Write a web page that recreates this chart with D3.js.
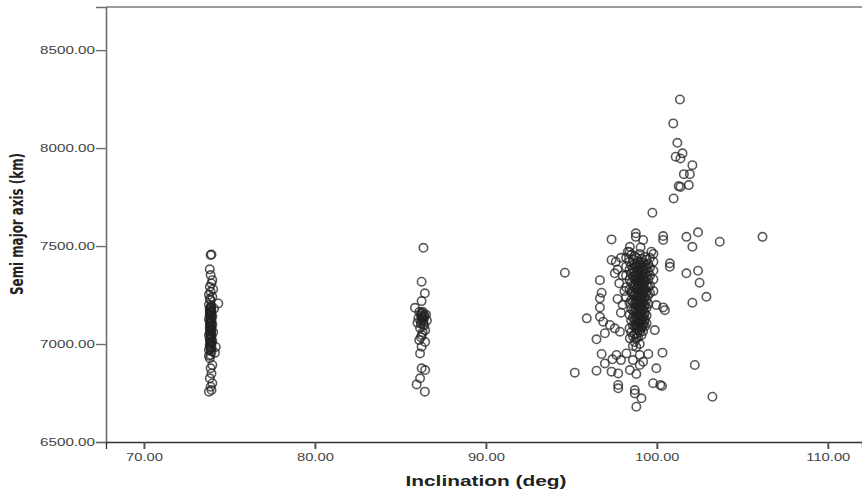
<!DOCTYPE html>
<html lang="en">
<head>
<meta charset="UTF-8">
<title>Inclination vs semi major axis</title>
<style>
  body { margin: 0; background: #fff; }
  text { font-family: "Liberation Sans", Arial, sans-serif; }
</style>
</head>
<body>
<div id="chart"></div>
<script src="https://cdn.jsdelivr.net/npm/d3@7"></script>
<script>
const width = 862, height = 490;

// axis ticks
const xTicks = [70, 80, 90, 100, 110];
const yTicks = [6500, 7000, 7500, 8000, 8500];

// [inclination (deg), semi major axis (km)]
const group74 = [
  [73.9,7454],[73.95,7457],[73.85,7381],[73.9,7352],[74.0,7326],[73.95,7309],[73.85,7292],
  [74.05,7280],[73.9,7267],[73.8,7252],[74.0,7241],[73.85,7230],[73.9,7224],[74.35,7207],
  [73.8,7200],[73.95,7195],[73.9,7188],[74.1,7180],[73.85,7175],[73.9,7168],[73.95,7160],
  [73.85,7155],[73.9,7148],[74.0,7140],[73.9,7135],[73.8,7128],[73.95,7120],[73.9,7112],
  [73.85,7105],[74.0,7098],[73.9,7090],[73.95,7082],[73.85,7075],[73.9,7068],[74.05,7060],
  [73.9,7052],[73.8,7045],[73.95,7038],[73.9,7030],[73.85,7022],[74.0,7015],[73.9,7008],
  [73.95,7000],[73.85,6992],[74.2,6985],[73.9,6978],[73.8,6970],[73.95,6962],[74.15,6955],
  [73.9,6944],[73.8,6940],[73.85,6927],[74.0,6893],[73.9,6876],[73.95,6850],[73.85,6825],
  [74.0,6800],[73.9,6782],[73.8,6757],[73.95,6765],
  [73.9,7185],[73.85,7178],[73.95,7170],[73.9,7163],[73.85,7150],[73.95,7143],[73.9,7130],
  [73.85,7117],[73.95,7108],[73.9,7095],[73.85,7085],[73.95,7072],[73.9,7062],[73.85,7055],
  [73.95,7043],[73.9,7035],[73.85,7025],[73.95,7012],[73.9,7003],[73.85,6995],[73.95,6985],
  [73.9,6972]
];

const group86 = [
  [86.35,7491],[86.24,7318],[86.43,7259],[86.24,7219],[85.85,7185],[86.1,7163],[86.3,7158],
  [86.5,7150],[86.2,7145],[86.4,7138],[86.05,7132],[86.3,7126],[86.55,7120],[86.2,7114],
  [86.0,7108],[86.35,7100],[86.15,7082],[86.45,7070],[86.25,7046],[86.1,7020],[86.45,7010],
  [86.24,6986],[86.15,6952],[86.24,6876],[86.45,6867],[86.15,6825],[85.95,6794],[86.43,6757],
  [86.3,7165],[86.2,7155],[86.4,7148],[86.3,7140],[86.25,7132],[86.35,7118],[86.2,7105],
  [86.4,7095],[86.3,7060],[86.2,7035]
];

const group98 = [
  // dense column
  [98.2,7440],[98.2,7395],[98.2,7350],[98.2,7290],[98.2,7240],
  [98.4,7470],[98.4,7420],[98.4,7380],[98.4,7330],[98.4,7280],[98.4,7210],[98.4,7150],[98.4,7080],
  [98.5,7455],[98.5,7400],[98.5,7360],[98.5,7310],[98.5,7265],[98.5,7225],[98.5,7180],[98.5,7120],[98.5,7060],
  [98.6,7430],[98.6,7385],[98.6,7345],[98.6,7300],[98.6,7255],[98.6,7215],[98.6,7170],[98.6,7135],[98.6,7095],[98.6,7040],[98.6,6990],
  [98.7,7450],[98.7,7410],[98.7,7370],[98.7,7330],[98.7,7290],[98.7,7250],[98.7,7205],[98.7,7165],[98.7,7125],[98.7,7090],[98.7,7050],[98.7,7010],
  [98.8,7440],[98.8,7395],[98.8,7355],[98.8,7320],[98.8,7280],[98.8,7240],[98.8,7200],[98.8,7160],[98.8,7115],[98.8,7080],[98.8,7030],[98.8,6985],
  [98.9,7420],[98.9,7380],[98.9,7340],[98.9,7300],[98.9,7260],[98.9,7225],[98.9,7190],[98.9,7150],[98.9,7110],[98.9,7070],[98.9,7035],
  [99.0,7460],[99.0,7405],[99.0,7365],[99.0,7325],[99.0,7285],[99.0,7245],[99.0,7210],[99.0,7175],[99.0,7140],[99.0,7100],[99.0,7060],[99.0,7000],
  [99.1,7435],[99.1,7390],[99.1,7350],[99.1,7310],[99.1,7270],[99.1,7230],[99.1,7195],[99.1,7155],[99.1,7120],[99.1,7085],[99.1,7045],
  [99.2,7415],[99.2,7375],[99.2,7335],[99.2,7295],[99.2,7255],[99.2,7215],[99.2,7180],[99.2,7140],[99.2,7100],[99.2,7065],
  [99.3,7445],[99.3,7400],[99.3,7360],[99.3,7320],[99.3,7280],[99.3,7240],[99.3,7200],[99.3,7160],[99.3,7125],[99.3,7090],
  [99.4,7430],[99.4,7385],[99.4,7345],[99.4,7305],[99.4,7265],[99.4,7225],[99.4,7185],[99.4,7145],[99.4,7105],
  [99.5,7410],[99.5,7370],[99.5,7330],[99.5,7290],[99.5,7250],[99.5,7205],
  [99.6,7440],[99.6,7390],[99.6,7350],[99.6,7300],[99.6,7260],
  [99.8,7420],[99.8,7375],[99.8,7330],[99.8,7270],
  [98.75,7395],[98.75,7345],[98.75,7305],[98.75,7262],[98.75,7222],[98.75,7182],[98.75,7140],[98.75,7100],
  [98.85,7410],[98.85,7365],[98.85,7330],[98.85,7290],[98.85,7250],[98.85,7212],[98.85,7175],[98.85,7135],[98.85,7095],[98.85,7055],
  [98.95,7390],[98.95,7350],[98.95,7315],[98.95,7275],[98.95,7235],[98.95,7198],[98.95,7162],[98.95,7125],[98.95,7088],
  [99.05,7420],[99.05,7380],[99.05,7340],[99.05,7300],[99.05,7262],[99.05,7225],[99.05,7188],[99.05,7150],[99.05,7112],[99.05,7075],
  [99.15,7400],[99.15,7360],[99.15,7322],[99.15,7285],[99.15,7248],[99.15,7210],[99.15,7170],[99.15,7132],[99.15,7095],
  [99.25,7385],[99.25,7345],[99.25,7305],[99.25,7268],[99.25,7228],[99.25,7190],[99.25,7150],[99.25,7112],
  [97.6,7420],[97.7,7380],[97.9,7440],[98.0,7350],[97.8,7310],[98.1,7270],[97.7,7230],[98.0,7200],[97.9,7160],
  // lower part of the column
  [98.42,7029],[97.84,7063],[96.96,7055],[97.25,7097],[97.54,7080],[96.86,7114],
  [97.64,6944],[98.22,6952],[99.0,6944],[99.5,6949],[96.96,6901],[97.35,6859],[97.74,6850],
  [98.42,6867],[98.8,6847],[99.0,6893],[99.2,6910],[98.6,6918],[97.9,6918],[97.4,6922],
  [97.74,6791],[97.74,6774],[98.71,6765],[98.71,6748],[99.1,6723],[99.78,6800],[100.2,6791],
  [100.3,6786],[98.8,6680],
  // scattered around
  [96.67,7326],[96.77,7262],[96.67,7233],[96.67,7187],[95.9,7131],[96.67,7139],[96.47,7024],
  [96.77,6949],[95.2,6854],[96.47,6864],[99.97,6876],[100.33,6956],[99.88,7071],[99.97,7199],
  [100.37,7187],[100.47,7173],[100.76,7412],[100.76,7394],[101.73,7361],[102.41,7374],
  [102.5,7313],[102.9,7241],[102.08,7211],[102.22,6893],[103.25,6731],[94.62,7364],
  [97.35,7534],[98.77,7565],[98.77,7547],[99.2,7531],[100.37,7551],[100.37,7531],[101.73,7547],
  [102.41,7570],[103.68,7522],[106.18,7547],[102.08,7496],[98.42,7496],[99.05,7493],
  [97.35,7429],[97.54,7361],[99.68,7471],[99.8,7460],[98.3,7471],
  // upper streak
  [101.35,8248],[100.96,8126],[101.2,8027],[101.1,7956],[101.5,7973],[101.38,7947],
  [102.08,7913],[101.58,7867],[101.93,7867],[101.28,7806],[101.38,7802],[101.87,7811],
  [100.98,7743],[99.74,7670]
];

const points = [...group74, ...group86, ...group98];

const svg = d3.select("#chart")
    .append("svg")
    .attr("width", width)
    .attr("height", height);

const x = d3.scaleLinear().domain([67.78, 112]).range([106, 862]);
const y = d3.scaleLinear().domain([6500, 8720]).range([442, 7]);

// frame: top line
svg.append("line")
    .attr("x1", 106).attr("x2", 862).attr("y1", 7).attr("y2", 7)
    .attr("stroke", "#7a7a7a").attr("stroke-width", 1.5);

// y axis
const yAxis = svg.append("g")
    .attr("transform", "translate(106,0)")
    .call(d3.axisLeft(y).tickValues(yTicks).tickFormat(d3.format(".2f")).tickSize(10).tickPadding(1));
yAxis.select(".domain").attr("stroke", "#6e6e6e").attr("stroke-width", 1.6);
yAxis.selectAll(".tick line").attr("stroke", "#6e6e6e").attr("stroke-width", 1.4);
yAxis.selectAll(".tick text")
    .attr("fill", "#444")
    .style("font-size", "11px")
    .attr("textLength", 55)
    .attr("lengthAdjust", "spacingAndGlyphs");

// x axis
const xAxis = svg.append("g")
    .attr("transform", "translate(0,442)")
    .call(d3.axisBottom(x).tickValues(xTicks).tickFormat(d3.format(".2f")).tickSize(7).tickPadding(4));
xAxis.select(".domain").attr("stroke", "#333").attr("stroke-width", 1.3);
xAxis.selectAll(".tick line").attr("stroke", "#555").attr("stroke-width", 2);
xAxis.selectAll(".tick text")
    .attr("fill", "#444")
    .style("font-size", "11px")
    .attr("textLength", d => d >= 100 ? 44 : 37)
    .attr("lengthAdjust", "spacingAndGlyphs");

// titles
svg.append("text")
    .attr("x", 486).attr("y", 486)
    .attr("text-anchor", "middle")
    .style("font-size", "14px").style("font-weight", "bold")
    .attr("fill", "#222")
    .attr("textLength", 161)
    .attr("lengthAdjust", "spacingAndGlyphs")
    .text("Inclination (deg)");

svg.append("text")
    .attr("transform", "translate(23,224) rotate(-90)")
    .attr("text-anchor", "middle")
    .style("font-family", "'Liberation Sans Narrow', 'DejaVu Sans Condensed', sans-serif")
    .style("font-size", "18px").style("font-weight", "bold")
    .attr("fill", "#222")
    .attr("textLength", 142)
    .attr("lengthAdjust", "spacingAndGlyphs")
    .text("Semi major axis (km)");

// points
svg.append("g")
    .selectAll("circle")
    .data(points)
    .join("circle")
    .attr("cx", d => x(d[0]))
    .attr("cy", d => y(d[1]))
    .attr("r", 4.2)
    .attr("fill", "none")
    .attr("stroke", "#222")
    .attr("stroke-opacity", 0.75)
    .attr("stroke-width", 1.6);
</script>
</body>
</html>
